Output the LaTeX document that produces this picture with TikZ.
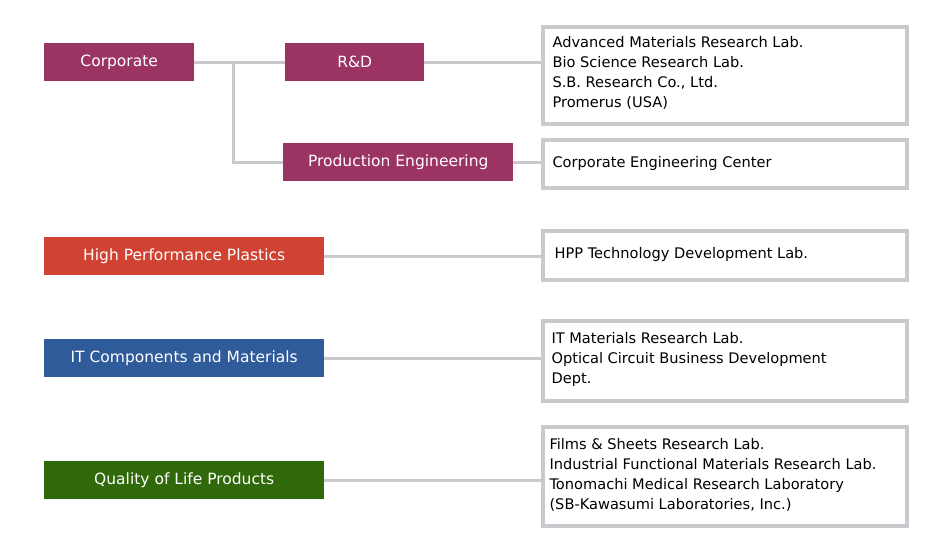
\documentclass[tikz,border=0pt]{standalone}
\usepackage{fontspec}
\setmainfont{DejaVu Sans}
\usetikzlibrary{positioning}
\definecolor{corp}{HTML}{9B3363}
\definecolor{hpp}{HTML}{D04232}
\definecolor{itc}{HTML}{2F5B9A}
\definecolor{qol}{HTML}{2F690A}
\definecolor{frame}{HTML}{C8CACD}
\tikzset{
  unit/.style={fill=#1, text=white, font=\fontsize{15.5}{18}\selectfont, inner sep=0pt, anchor=north west},
  labbox/.style={draw=frame, line width=4pt, anchor=north west, minimum width=364pt, inner sep=0pt},
  labtext/.style={font=\fontsize{14.6}{20}\selectfont, align=left, anchor=west},
  link/.style={draw=frame, line width=3pt}
}
\begin{document}
\begin{tikzpicture}[x=1pt,y=-1pt]
    \useasboundingbox (0,0) rectangle (930,544);
    \node [unit=corp, minimum width=150pt, minimum height=38pt] (co) at (44,43) {Corporate};
    \node [unit=corp, minimum width=139pt, minimum height=38pt] (rd) at (285,43) {R\&D};
    \node [unit=corp, minimum width=230pt, minimum height=38pt] (pe) at (283,143) {Production Engineering};
    \node [unit=hpp, minimum width=280pt, minimum height=38pt] (hp) at (44,237) {High Performance Plastics};
    \node [unit=itc, minimum width=280pt, minimum height=38pt] (it) at (44,339) {IT Components and Materials};
    \node [unit=qol, minimum width=280pt, minimum height=38pt] (ql) at (44,461) {Quality of Life Products};

    \node [labbox, minimum height=97pt] (b1) at (541,25) {};
    \node [labbox, minimum height=48pt] (b2) at (541,138) {};
    \node [labbox, minimum height=49pt] (b3) at (541,229) {};
    \node [labbox, minimum height=80pt] (b4) at (541,319) {};
    \node [labbox, minimum height=99pt] (b5) at (541,425) {};

    \node [labtext] (t1) at (549,73) {Advanced Materials Research Lab.\\Bio Science Research Lab.\\S.B. Research Co., Ltd.\\Promerus (USA)};
    \node [labtext] (t2) at (549,163) {Corporate Engineering Center};
    \node [labtext] (t3) at (551,254) {HPP Technology Development Lab.};
    \node [labtext] (t4) at (548,359) {IT Materials Research Lab.\\Optical Circuit Business Development\\Dept.};
    \node [labtext] (t5) at (546,475) {Films \& Sheets Research Lab.\\Industrial Functional Materials Research Lab.\\Tonomachi Medical Research Laboratory\\(SB-Kawasumi Laboratories, Inc.)};

    \coordinate (jn) at (233,62);
    \draw [link] (co.east) -- (rd.west);
    \draw [link] (jn) |- (pe.west);
    \draw [link] (rd.east) -- (b1.west |- rd.east);
    \draw [link] (pe.east) -- (b2.west |- pe.east);
    \draw [link] (hp.east) -- (b3.west |- hp.east);
    \draw [link] (it.east) -- (b4.west |- it.east);
    \draw [link] (ql.east) -- (b5.west |- ql.east);
\end{tikzpicture}
\end{document}
